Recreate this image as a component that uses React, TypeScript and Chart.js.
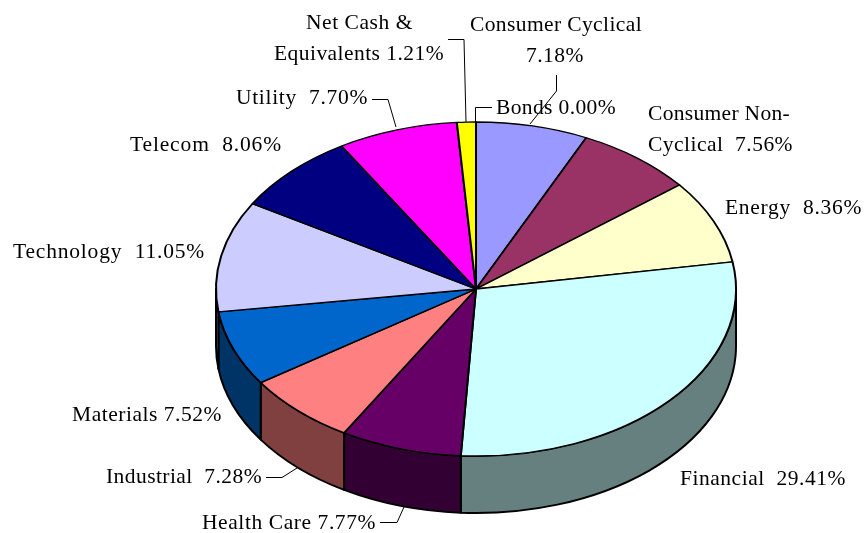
import React, { useEffect, useRef } from "react";
import { Chart, registerables } from "chart.js";

Chart.register(...registerables);

const categories = ["Bonds", "Consumer Cyclical", "Consumer Non-Cyclical", "Energy", "Financial", "Health Care", "Industrial", "Materials", "Technology", "Telecom", "Utility", "Net Cash & Equivalents"];
const shares = [0.0, 7.18, 7.56, 8.36, 29.41, 7.77, 7.28, 7.52, 11.05, 8.06, 7.7, 1.21];
const topColors = ["#FFFFFF", "#9999FF", "#993366", "#FFFFCC", "#CCFFFF", "#660066", "#FF8080", "#0066CC", "#CCCCFF", "#000080", "#FF00FF", "#FFFF00"];
const sideColors = ["#808080", "#4D4D80", "#4D1A33", "#808066", "#668080", "#330033", "#804040", "#003366", "#666680", "#000040", "#800080", "#808000"];

// text, left x, right x, middle y
const labelRows: [string, number, number, number][] = [
  ["Net Cash &", 306, 413, 23],
  ["Equivalents 1.21%", 274, 444, 54],
  ["Consumer Cyclical", 470, 642, 25],
  ["7.18%", 526, 584, 56],
  ["Bonds 0.00%", 496, 616, 108],
  ["Consumer Non-", 648, 790, 114],
  ["Cyclical  7.56%", 648, 793, 145],
  ["Energy  8.36%", 725, 862, 208],
  ["Financial  29.41%", 680, 846, 479],
  ["Health Care 7.77%", 202, 376, 523],
  ["Industrial  7.28%", 106, 262, 477],
  ["Materials 7.52%", 72, 222, 415],
  ["Technology  11.05%", 13, 205, 252],
  ["Telecom  8.06%", 130, 282, 145],
  ["Utility  7.70%", 236, 368, 98],
];

const leaderLines: [number, number][][] = [
  [[448, 39.5], [464, 39.5], [466, 122]],
  [[372, 99.5], [388, 99.5], [396, 127]],
  [[492, 107.5], [475.5, 107.5], [475.5, 122]],
  [[556.5, 75], [556.5, 91], [530, 124]],
  [[266, 477.5], [282, 477.5], [297, 468]],
  [[380, 522.5], [397, 522.5], [404, 507]],
];

const SQUASH = 167 / 260;
const DEPTH = 57;

const piePlugin = {
  id: "pie3d",
  beforeDatasetsDraw(chart: any) {
    const ctx = chart.ctx;
    const arcs = chart.getDatasetMeta(0).data;
    const cx = arcs[0].x;
    const cy = arcs[0].y;
    const rx = arcs[0].outerRadius;
    const ry = rx * SQUASH;
    ctx.save();
    ctx.lineWidth = 2;
    ctx.strokeStyle = "#000";
    ctx.lineJoin = "round";
    arcs.forEach((arc: any, i: number) => {
      const a0 = Math.max(arc.startAngle, 0);
      const a1 = Math.min(arc.endAngle, Math.PI);
      if (a1 <= a0) return;
      ctx.beginPath();
      ctx.ellipse(cx, cy, rx, ry, 0, a0, a1);
      ctx.ellipse(cx, cy + DEPTH, rx, ry, 0, a1, a0, true);
      ctx.closePath();
      ctx.fillStyle = sideColors[i];
      ctx.fill();
      ctx.stroke();
    });
    ctx.restore();
    ctx.save();
    ctx.translate(cx, cy);
    ctx.scale(1, SQUASH);
    ctx.translate(-cx, -cy);
  },
  afterDatasetsDraw(chart: any) {
    const ctx = chart.ctx;
    ctx.restore();
    ctx.save();
    ctx.strokeStyle = "#000";
    ctx.lineWidth = 1;
    leaderLines.forEach((line) => {
      ctx.beginPath();
      line.forEach(([x, y], i) => (i ? ctx.lineTo(x, y) : ctx.moveTo(x, y)));
      ctx.stroke();
    });
    ctx.fillStyle = "#000";
    ctx.font = '21.5px "Liberation Serif"';
    ctx.textAlign = "left";
    ctx.textBaseline = "middle";
    labelRows.forEach(([text, left, right, y]) => {
      ctx.letterSpacing = "0px";
      const natural = ctx.measureText(text).width;
      ctx.letterSpacing = `${(right - left - natural) / text.length}px`;
      ctx.fillText(text, left, y);
    });
    ctx.restore();
  },
};

export default function App() {
  const ref = useRef<HTMLCanvasElement>(null);
  useEffect(() => {
    const chart = new Chart(ref.current!, {
      type: "pie",
      data: {
        labels: categories,
        datasets: [
          {
            data: shares,
            backgroundColor: topColors,
            borderColor: "#000",
            borderWidth: 2,
            clip: false,
          } as any,
        ],
      },
      options: {
        animation: false,
        responsive: false,
        devicePixelRatio: 1,
        radius: 260,
        layout: { padding: { left: 87, right: 0, top: 45, bottom: 0 } },
        plugins: { legend: { display: false }, tooltip: { enabled: false } },
      } as any,
      plugins: [piePlugin],
    });
    return () => chart.destroy();
  }, []);
  return (
    <canvas
      ref={ref}
      width={865}
      height={533}
      style={{ position: "fixed", left: 0, top: 0, background: "#fff" }}
    />
  );
}
